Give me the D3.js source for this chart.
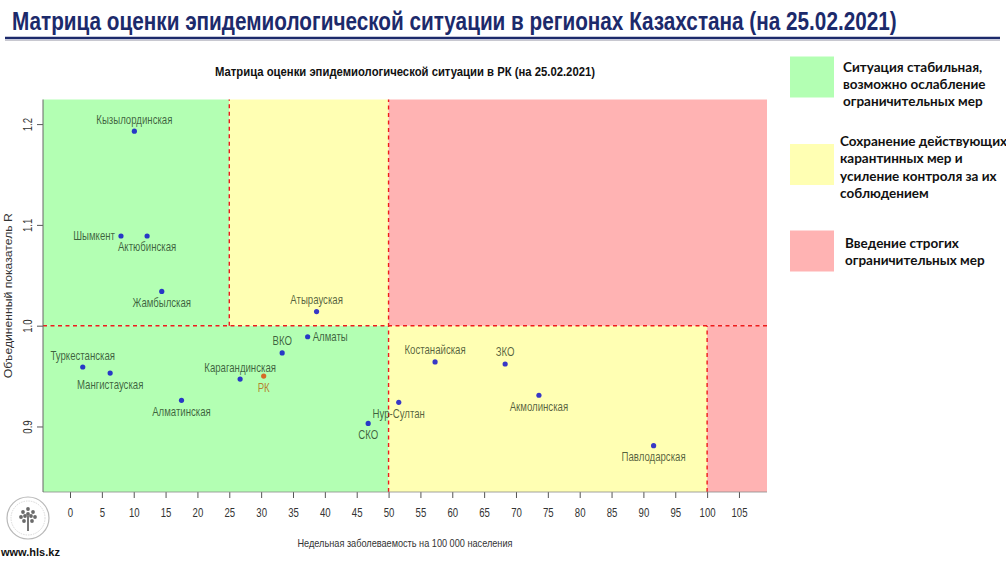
<!DOCTYPE html>
<html>
<head>
<meta charset="utf-8">
<script src="https://cdn.jsdelivr.net/npm/d3@7"></script>
<style>
  body { margin: 0; background: #fff; }
  svg { display: block; }
  text { font-family: "Liberation Sans", Arial, sans-serif; }
  .legendText { font-family: Lato, "Open Sans", sans-serif; font-weight: bold; font-size: 13.5px; fill: #111; }
</style>
</head>
<body>
<svg id="chart" width="1006" height="562"></svg>
<script>
// data
const regions = [
  "Кызылординская", "Шымкент", "Актюбинская", "Жамбылская", "Атырауская",
  "Алматы", "ВКО", "Туркестанская", "Мангистауская", "Карагандинская",
  "РК", "Алматинская", "СКО", "Нур-Султан", "Костанайская",
  "ЗКО", "Акмолинская", "Павлодарская"
];
const incidence = [10.1, 8.0, 12.1, 14.4, 38.7, 37.3, 33.3, 2.0, 6.3, 26.7, 30.4, 17.5, 46.8, 51.6, 57.3, 68.3, 73.6, 91.6];
const rValues = [1.193, 1.089, 1.089, 1.034, 1.014, 0.989, 0.973, 0.959, 0.953, 0.947, 0.950, 0.926, 0.903, 0.924, 0.964, 0.962, 0.931, 0.881];

const xTicks = d3.range(0, 106, 5);
const yTicks = [0.9, 1.0, 1.1, 1.2];
const xBreaks = [25, 50, 100];
const rBreak = 1.0;

const legendLabels = [
  ["Ситуация стабильная,", "возможно ослабление", "ограничительных мер"],
  ["Сохранение действующих", "карантинных мер и", "усиление контроля за их", "соблюдением"],
  ["Введение строгих", "ограничительных мер"]
];

const mainTitle = "Матрица оценки эпидемиологической ситуации в регионах Казахстана (на 25.02.2021)";
const chartTitle = "Матрица оценки эпидемиологической ситуации в РК (на 25.02.2021)";
const xTitle = "Недельная заболеваемость на 100 000 населения";
const yTitle = "Объединенный показатель R";

// where each label sits relative to its point
const labelSide = {
  "Кызылординская": "top", "Шымкент": "left", "Актюбинская": "bottom", "Жамбылская": "bottom",
  "Атырауская": "top", "Алматы": "right", "ВКО": "top", "Туркестанская": "top",
  "Мангистауская": "bottom", "Карагандинская": "top", "РК": "bottom", "Алматинская": "bottom",
  "СКО": "bottom", "Нур-Султан": "bottom", "Костанайская": "top", "ЗКО": "top",
  "Акмолинская": "bottom", "Павлодарская": "bottom"
};

const colors = { green: "#b3ffb3", yellow: "#ffffb3", red: "#ffb3b3" };
const narrow = 0.8; // no narrow font installed, so squeeze the text

const svg = d3.select("#chart");

const plot = { left: 43, right: 767, top: 99.5, bottom: 492 };

const x = d3.scaleLinear().domain([-4.24, 109.4]).range([plot.left, plot.right]);
const y = d3.scaleLinear().domain([0.835, 1.2244]).range([plot.bottom, plot.top]);

const [xMin, xMax] = x.domain();
const [yMin, yMax] = y.domain();

// page title, squeezed to the width it has in the slide
const title = svg.append("text")
  .style("font-size", "26.5px")
  .style("font-weight", "bold")
  .attr("fill", "#1c2a6b")
  .text(mainTitle);
const titleWidth = title.node().getComputedTextLength();
title.attr("transform", `translate(12,30) scale(${885 / titleWidth},1)`);

svg.append("line")
  .attr("x1", 5).attr("x2", 1000)
  .attr("y1", 38).attr("y2", 38)
  .attr("stroke", "#1c2a6b")
  .attr("stroke-width", 2.5);
svg.append("line")
  .attr("x1", 5).attr("x2", 1000)
  .attr("y1", 40.5).attr("y2", 40.5)
  .attr("stroke", "#c8c8d0")
  .attr("stroke-width", 1);

// zones
const zones = [
  { x0: xMin, x1: xBreaks[0], y0: rBreak, y1: yMax, c: colors.green },
  { x0: xMin, x1: xBreaks[1], y0: yMin, y1: rBreak, c: colors.green },
  { x0: xBreaks[0], x1: xBreaks[1], y0: rBreak, y1: yMax, c: colors.yellow },
  { x0: xBreaks[1], x1: xBreaks[2], y0: yMin, y1: rBreak, c: colors.yellow },
  { x0: xBreaks[1], x1: xMax, y0: rBreak, y1: yMax, c: colors.red },
  { x0: xBreaks[2], x1: xMax, y0: yMin, y1: rBreak, c: colors.red }
];

svg.append("g")
  .selectAll("rect")
  .data(zones)
  .join("rect")
  .attr("x", d => x(d.x0))
  .attr("y", d => y(d.y1))
  .attr("width", d => x(d.x1) - x(d.x0))
  .attr("height", d => y(d.y0) - y(d.y1))
  .attr("fill", d => d.c);

// dashed borders between zones
const dashes = [
  { x1: xBreaks[0], x2: xBreaks[0], y1: rBreak, y2: yMax },
  { x1: xBreaks[1], x2: xBreaks[1], y1: yMin, y2: yMax },
  { x1: xBreaks[2], x2: xBreaks[2], y1: yMin, y2: rBreak },
  { x1: xMin, x2: xMax, y1: rBreak, y2: rBreak }
];

svg.append("g")
  .selectAll("line")
  .data(dashes)
  .join("line")
  .attr("x1", d => x(d.x1))
  .attr("x2", d => x(d.x2))
  .attr("y1", d => y(d.y1))
  .attr("y2", d => y(d.y2))
  .attr("stroke", "#ee1c1c")
  .attr("stroke-width", 1.4)
  .attr("stroke-dasharray", "4,3.5");

// axes
const xAxis = svg.append("g")
  .attr("transform", `translate(0,${plot.bottom})`)
  .call(d3.axisBottom(x).tickValues(xTicks).tickSize(6).tickPadding(10));
xAxis.select(".domain").remove();
xAxis.selectAll("text")
  .style("font-family", "Liberation Sans, Arial, sans-serif")
  .style("font-size", "12px")
  .attr("transform", `scale(${narrow},1)`)
  .attr("fill", "#333");
xAxis.selectAll("line").attr("stroke", "#555");

svg.append("line")
  .attr("x1", plot.left).attr("x2", plot.right)
  .attr("y1", plot.bottom).attr("y2", plot.bottom)
  .attr("stroke", "#8a8a8a").attr("stroke-width", 0.8);

const yAxis = svg.append("g")
  .attr("transform", `translate(${plot.left},0)`)
  .call(d3.axisLeft(y).tickValues(yTicks).tickSize(6).tickFormat(d3.format(".1f")));
yAxis.select(".domain").remove();
yAxis.selectAll("line").attr("stroke", "#555");
yAxis.selectAll("text")
  .attr("x", null).attr("dy", null)
  .attr("text-anchor", "middle")
  .attr("transform", `translate(-11.5,0) rotate(-90) scale(${narrow},1)`)
  .style("font-family", "Liberation Sans, Arial, sans-serif")
  .style("font-size", "12px")
  .attr("fill", "#333");

svg.append("line")
  .attr("x1", plot.left).attr("x2", plot.left)
  .attr("y1", plot.top).attr("y2", plot.bottom)
  .attr("stroke", "#666").attr("stroke-width", 1);

// titles of the chart
svg.append("text")
  .attr("x", (plot.left + plot.right) / 2)
  .attr("y", 76)
  .attr("text-anchor", "middle")
  .attr("textLength", 380)
  .attr("lengthAdjust", "spacingAndGlyphs")
  .style("font-size", "12.5px")
  .style("font-weight", "bold")
  .attr("fill", "#111")
  .text(chartTitle);

svg.append("text")
  .attr("x", (plot.left + plot.right) / 2)
  .attr("y", 547)
  .attr("text-anchor", "middle")
  .attr("textLength", 215)
  .attr("lengthAdjust", "spacingAndGlyphs")
  .style("font-size", "11px")
  .attr("fill", "#333")
  .text(xTitle);

svg.append("text")
  .attr("transform", `translate(12,${(plot.top + plot.bottom) / 2}) rotate(-90)`)
  .attr("text-anchor", "middle")
  .attr("textLength", 165)
  .attr("lengthAdjust", "spacingAndGlyphs")
  .style("font-size", "11.5px")
  .attr("fill", "#333")
  .text(yTitle);

// points and labels
const points = regions.map((name, i) => ({ name, inc: incidence[i], r: rValues[i] }));

svg.append("g")
  .selectAll("circle")
  .data(points)
  .join("circle")
  .attr("cx", d => x(d.inc))
  .attr("cy", d => y(d.r))
  .attr("r", 2.6)
  .attr("fill", d => d.name === "РК" ? "#e04000" : "#0000cc")
  .attr("fill-opacity", 0.78);

const offset = {
  top: { dx: 0, dy: -7.5, anchor: "middle" },
  bottom: { dx: 0, dy: 15.5, anchor: "middle" },
  left: { dx: -6, dy: 4, anchor: "end" },
  right: { dx: 5, dy: 4, anchor: "start" }
};

svg.append("g")
  .selectAll("text")
  .data(points)
  .join("text")
  .attr("transform", d => {
    const o = offset[labelSide[d.name]];
    return `translate(${x(d.inc) + o.dx},${y(d.r) + o.dy}) scale(0.77,1)`;
  })
  .attr("text-anchor", d => offset[labelSide[d.name]].anchor)
  .style("font-size", "12.5px")
  .attr("fill", d => d.name === "РК" ? "#b35900" : "#0a1a0a")
  .attr("fill-opacity", d => d.name === "РК" ? 0.75 : 0.7)
  .text(d => d.name);

// legend
const legendColors = [colors.green, colors.yellow, colors.red];
const legendTop = [56.5, 144, 230.5];
const legend = svg.append("g");

legendLabels.forEach((lines, i) => {
  legend.append("rect")
    .attr("x", 790)
    .attr("y", legendTop[i])
    .attr("width", 44)
    .attr("height", 41)
    .attr("fill", legendColors[i]);
  const t = legend.append("text")
    .attr("class", "legendText")
    .attr("x", i === 2 ? 845 : (i === 1 ? 840 : 843))
    .attr("y", [71.5, 146, 248][i]);
  lines.forEach((line, j) => {
    t.append("tspan")
      .attr("x", t.attr("x"))
      .attr("dy", j === 0 ? 0 : 17.3)
      .text(line);
  });
});

// logo in the bottom left corner
const logo = svg.append("g").attr("transform", "translate(28,518)");
logo.append("circle")
  .attr("r", 21)
  .attr("fill", "none")
  .attr("stroke", "#b8b8b8")
  .attr("stroke-width", 1.2);
logo.append("circle")
  .attr("r", 17)
  .attr("fill", "none")
  .attr("stroke", "#d0d0d0")
  .attr("stroke-width", 0.8)
  .attr("stroke-dasharray", "1.5,1");
logo.append("line")
  .attr("x1", 0).attr("x2", 0)
  .attr("y1", -2).attr("y2", 13)
  .attr("stroke", "#555").attr("stroke-width", 1.6);
const leaves = [[0, -9], [-5, -6], [5, -6], [-7, -1], [7, -1], [-3, -2], [3, -2], [0, -4], [-4, 3], [4, 3]];
logo.selectAll("circle.leaf")
  .data(leaves)
  .join("circle")
  .attr("class", "leaf")
  .attr("cx", d => d[0])
  .attr("cy", d => d[1])
  .attr("r", 1.9)
  .attr("fill", "#6a6a6a");

svg.append("text")
  .attr("x", 1)
  .attr("y", 556)
  .style("font-size", "11px")
  .style("font-weight", "bold")
  .attr("fill", "#111")
  .text("www.hls.kz");
</script>
</body>
</html>
